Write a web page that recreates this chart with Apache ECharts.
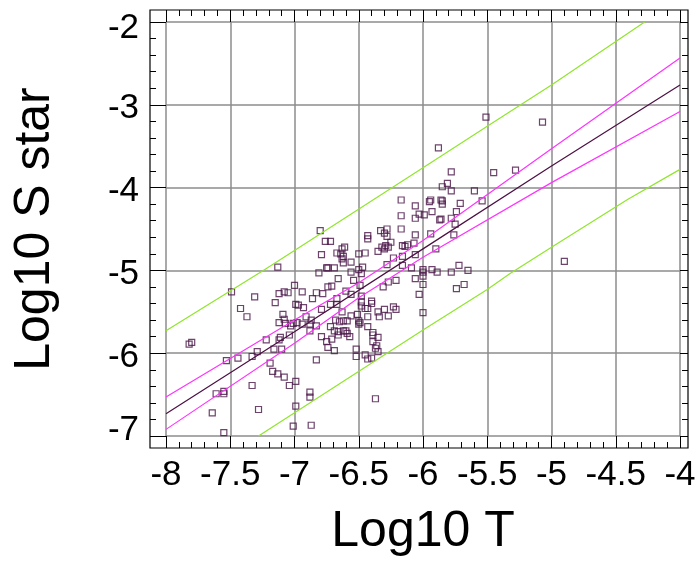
<!DOCTYPE html>
<html><head><meta charset="utf-8">
<script src="https://cdn.jsdelivr.net/npm/echarts@6/dist/echarts.min.js"></script>
<style>html,body{margin:0;padding:0;background:#fff}#c{width:699px;height:568px}</style>
</head><body><div id="c"></div>
<script>
// Observed points: Log10 T and Log10 S star
const logT = [
 -6.80,-6.76,-6.72,-6.61,-6.63,-6.79,-6.67,-6.64,-6.62,-6.63,-6.62,-7.13,-6.75,-6.74,-6.69,-6.56,-6.56,
 -5.51,-5.07,-5.88,-5.78,-5.45,-5.28,-5.81,-5.85,-5.78,-5.60,-5.54,-6.17,-6.06,-5.95,-5.94,-5.86,-5.85,-5.85,-5.71,
 -6.17,-6.06,-6.03,-5.99,-5.93,-5.74,-5.78,-5.86,-5.87,-5.75,-6.17,-6.28,-6.33,-6.30,-6.43,-6.43,-6.28,-6.06,-5.94,-5.76,
 -6.25,-6.32,-6.29,-6.27,-6.30,-6.16,-6.14,-6.12,-6.07,-5.90,-6.35,-6.50,-6.45,-6.06,-6.16,-6.23,-6.47,-6.50,-6.28,-6.16,
 -6.09,-6.00,-6.00,-5.93,-5.89,-5.78,-5.72,-5.65,-4.90,
 -6.48,-6.00,-6.54,-6.49,-6.27,-6.21,-6.31,-6.06,-6.00,-5.74,-5.68,-6.03,-6.00,-6.60,-6.56,-6.48,-6.48,-6.40,-6.40,-6.48,
 -6.45,-6.43,-6.35,-6.30,-6.23,-6.21,-6.34,-6.27,-6.56,-6.51,-6.43,-6.59,-6.50,-6.49,-6.50,-6.43,-6.60,-6.57,-6.39,-6.39,
 -6.35,-6.39,-6.36,-6.37,-6.35,-6.52,-6.52,-6.45,-6.43,-6.40,-6.37,
 -6.81,-6.66,-7.00,-6.74,-6.71,-7.12,-7.08,-7.05,-6.94,-6.83,-6.78,-6.86,-7.15,-6.99,-6.97,-6.93,-6.72,-6.67,-6.67,-7.42,
 -7.49,-7.31,-6.63,-7.09,-6.91,-7.37,-6.87,-7.08,-7.12,-7.07,-7.01,-6.98,-6.94,-6.88,-6.83,-7.03,-6.88,-6.68,-6.62,-6.72,
 -6.66,-6.62,-6.79,-6.75,-6.71,-6.74,-6.69,-6.83,-7.04,-7.11,-7.12,-7.10,-7.16,-7.22,-7.29,-7.33,-7.44,-7.53,-7.80,-7.82,
 -7.19,-7.17,-7.13,-7.08,-7.04,-6.99,-7.33,-7.55,-7.61,-7.55,-7.64,-7.28,-6.99,-6.88,-6.88,-6.87,-7.01,-7.55,-6.69,-6.59,
 -6.66,-6.79,-6.65
];
const logS = [
 -4.52,-4.65,-4.65,-4.72,-4.74,-4.81,-4.79,-4.80,-4.83,-4.86,-4.91,-4.96,-4.97,-4.97,-4.97,-5.02,-4.90,
 -3.15,-3.21,-3.52,-3.81,-3.82,-3.79,-3.95,-3.99,-4.04,-4.04,-4.16,-4.15,-4.22,-4.17,-4.15,-4.15,-4.16,-4.20,-4.19,
 -4.34,-4.37,-4.32,-4.33,-4.29,-4.29,-4.37,-4.38,-4.39,-4.44,-4.50,-4.50,-4.52,-4.55,-4.58,-4.62,-4.59,-4.57,-4.56,-4.57,
 -4.66,-4.72,-4.70,-4.72,-4.74,-4.70,-4.71,-4.69,-4.67,-4.74,-4.77,-4.80,-4.79,-4.81,-4.83,-4.85,-4.96,-4.99,-4.93,-4.94,
 -4.97,-4.99,-5.02,-4.99,-5.02,-5.02,-4.94,-5.00,-4.89,
 -5.04,-5.07,-5.12,-5.18,-5.14,-5.12,-5.20,-5.10,-5.17,-5.22,-5.17,-5.29,-5.51,-5.25,-5.29,-5.31,-5.38,-5.37,-5.40,-5.43,
 -5.46,-5.46,-5.50,-5.47,-5.44,-5.47,-5.56,-5.55,-5.55,-5.53,-5.56,-5.61,-5.61,-5.63,-5.65,-5.68,-5.73,-5.80,-5.75,-5.78,
 -5.81,-5.86,-5.91,-5.94,-5.98,-5.95,-6.04,-6.02,-6.07,-6.06,-6.55,
 -5.03,-5.10,-5.18,-5.20,-5.19,-5.28,-5.26,-5.27,-5.26,-5.27,-5.28,-5.34,-5.39,-5.41,-5.42,-5.45,-5.41,-5.41,-5.34,-5.46,
 -5.26,-5.32,-5.50,-5.53,-5.56,-5.56,-5.60,-5.59,-5.63,-5.64,-5.64,-5.63,-5.65,-5.65,-5.67,-5.67,-5.73,-5.60,-5.61,-5.68,
 -5.74,-5.73,-5.80,-5.86,-5.83,-5.93,-5.97,-6.08,-5.78,-5.81,-5.84,-5.95,-5.95,-5.84,-5.98,-6.04,-6.06,-6.09,-5.87,-5.89,
 -6.12,-6.22,-6.25,-6.29,-6.39,-6.34,-6.39,-6.46,-6.49,-6.49,-6.72,-6.68,-6.64,-6.47,-6.53,-6.87,-6.88,-6.96,-5.73,-5.76,
 -5.78,-5.47,-5.62
];
// Regression line
const fitX = [-8, -7, -6, -5, -4];
const fitY = [-6.73, -5.74, -4.74, -3.74, -2.76];
// Confidence band (magenta)
const confX = [-8, -7, -6.5, -6, -5, -4];
const confUpY = [-6.53, -5.60, -5.15, -4.64, -3.53, -2.435];
const confLoY = [-6.92, -5.88, -5.33, -4.84, -3.94, -3.08];
// Prediction band (green)
const predUpX = [-8, -7.243, -7, -6, -5.5, -5, -4.275];
const predUpY = [-5.73, -5.0, -4.76, -3.76, -3.26, -2.76, -2.0];
const predLoX = [-7.28, -6.61, -6, -5.5, -5.325, -5, -4.405, -4];
const predLoY = [-7.0, -6.33, -5.72, -5.23, -5.04, -4.72, -4.14, -3.78];

const zip = (a, b) => a.map((v, i) => [v, b[i]]);
const FONT = '"Liberation Sans", Arial, sans-serif';
const tickStyle = {color: '#000', width: 1};
const lblFont = {fontSize: 35, color: '#000', fontFamily: FONT};

function xAx(pos, offset, len, labels) {
  return {
    type: 'value', min: -8, max: -4, interval: 0.5, position: pos, offset: offset,
    axisLine: {show: false},
    axisTick: {show: true, inside: true, length: len, lineStyle: tickStyle},
    minorTick: {show: true, splitNumber: 5, length: 6, lineStyle: tickStyle},
    splitLine: {show: labels, lineStyle: {color: '#8c8c8c', width: 1.5}},
    axisLabel: Object.assign({show: labels, margin: 10}, lblFont),
    name: labels ? 'Log10 T' : '', nameLocation: 'middle', nameGap: 59,
    nameTextStyle: {fontSize: 50, color: '#000', fontFamily: FONT}
  };
}
function yAx(pos, offset, len, labels) {
  return {
    type: 'value', min: -7, max: -2, interval: 1, position: pos, offset: offset,
    axisLine: {show: false},
    axisTick: {show: true, inside: true, length: len, lineStyle: tickStyle},
    minorTick: {show: true, splitNumber: 5, length: 6, lineStyle: tickStyle},
    splitLine: {show: labels, lineStyle: {color: '#8c8c8c', width: 1.5}},
    axisLabel: Object.assign({show: labels, margin: 11,
      formatter: v => (v === -7 ? '{lo|' : v === -2 ? '{hi|' : '{n|') + v + '}',
      rich: {
        n: Object.assign({padding: [8, 0, 0, 0]}, lblFont),
        hi: Object.assign({padding: [12, 0, 0, 0]}, lblFont),
        lo: Object.assign({padding: [0, 0, 12, 0]}, lblFont)
      }}, lblFont),
    name: labels ? 'Log10 S star' : '', nameLocation: 'middle', nameGap: 90,
    nameTextStyle: {fontSize: 50, color: '#000', fontFamily: FONT}
  };
}
function lineSeries(data, color) {
  return {type: 'line', data: data, symbol: 'none', showSymbol: false, silent: true,
    lineStyle: {color: color, width: 1.2}, z: 3};
}

const chart = echarts.init(document.getElementById('c'), null, {renderer: 'canvas'});
chart.setOption({
  animation: false,
  backgroundColor: '#fff',
  grid: {left: 166, top: 22, right: 19, bottom: 132, containLabel: false, outerBoundsMode: 'none'},
  xAxis: [xAx('bottom', 12, 12, true), xAx('top', 12, 12, false)],
  yAxis: [yAx('left', 16, 16, true), yAx('right', 8, 8, false)],
  graphic: [{type: 'rect', silent: true, z: 100,
    shape: {x: 150, y: 10, width: 538, height: 438},
    style: {fill: 'transparent', stroke: '#000', lineWidth: 1.2}}],
  series: [
    {type: 'scatter', data: zip(logT, logS), symbol: 'rect', symbolSize: 6,
     itemStyle: {color: 'rgba(0,0,0,0)', borderColor: '#4a1548', borderWidth: 1.2}, z: 2},
    lineSeries(zip(predUpX, predUpY), '#8fe62a'),
    lineSeries(zip(predLoX, predLoY), '#8fe62a'),
    lineSeries(zip(confX, confUpY), '#ff33ff'),
    lineSeries(zip(confX, confLoY), '#ff33ff'),
    lineSeries(zip(fitX, fitY), '#4d1045')
  ]
});
</script>
</body></html>
